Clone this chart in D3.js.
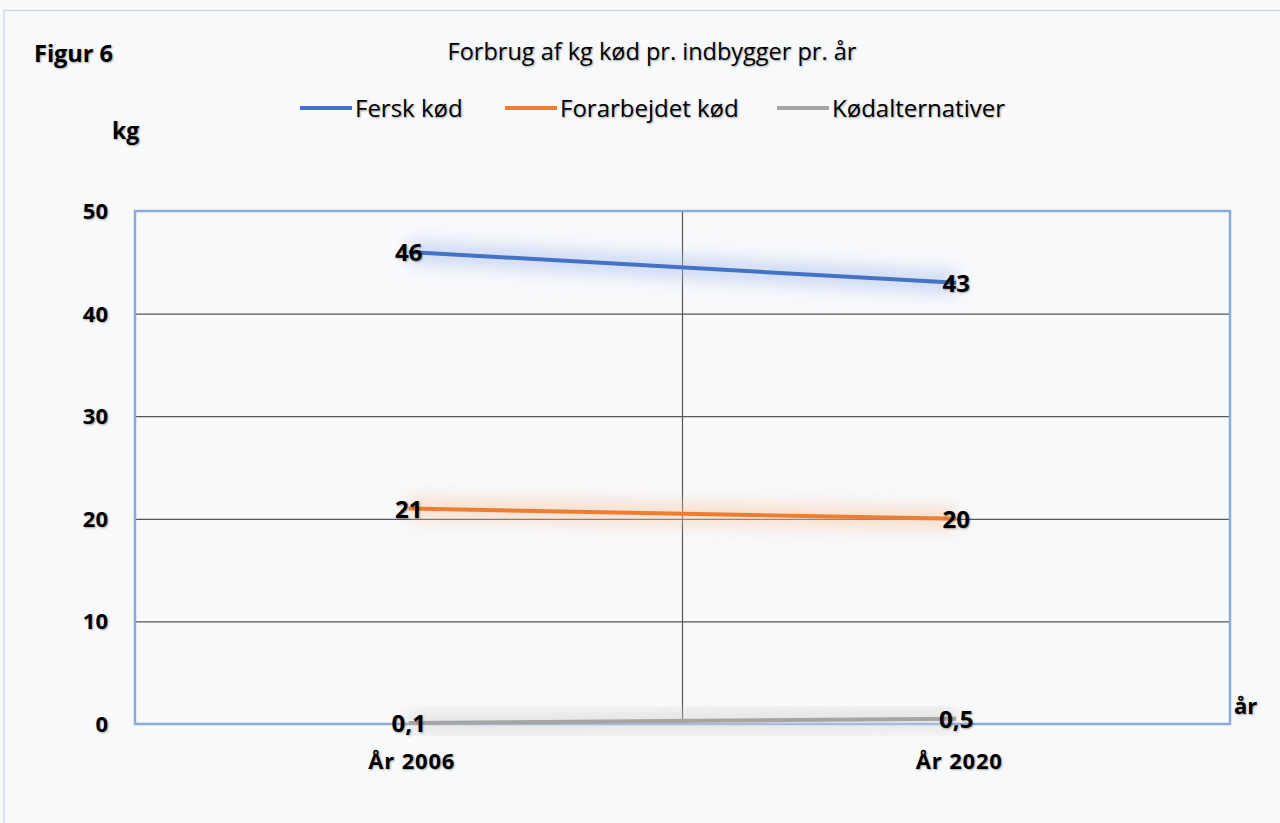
<!DOCTYPE html>
<html><head><meta charset="utf-8">
<script src="https://cdn.jsdelivr.net/npm/d3@7"></script>
<style>
html,body{margin:0;padding:0;background:#f8f9fb;}
svg text{font-family:"Open Sans",sans-serif;fill:#000;}
.sh{text-shadow:1px 1px 2px rgba(0,0,0,0.35);}
</style></head><body>
<svg id="c" width="1280" height="823"></svg>
<script>
const categories = ["År 2006", "År 2020"];
const seriesNames = ["Fersk kød", "Forarbejdet kød", "Kødalternativer"];
const fersk = [46, 43];
const forarbejdet = [21, 20];
const alternativer = [0.1, 0.5];
const labelsFersk = ["46", "43"];
const labelsForarb = ["21", "20"];
const labelsAlt = ["0,1", "0,5"];
const yTicks = [0, 10, 20, 30, 40, 50];
const colors = ["#4472c4", "#ed7d31", "#a5a5a5"];
const glow = ["#a9c0ee", "#f8c8a6", "#d2d2d2"];

const series = [
  {name: seriesNames[0], values: fersk, labels: labelsFersk},
  {name: seriesNames[1], values: forarbejdet, labels: labelsForarb},
  {name: seriesNames[2], values: alternativer, labels: labelsAlt}
];

const svg = d3.select("#c");
const L = 135, R = 1230, T = 211, B = 724;

// outer chart border
svg.append("rect").attr("x", 4).attr("y", 10.5).attr("width", 1290).attr("height", 830)
  .attr("fill", "#f8f9fb").attr("stroke", "#d3d9e6").attr("stroke-width", 1.5);

const defs = svg.append("defs");
glow.forEach((g, i) => {
  const f = defs.append("filter").attr("id", "glow" + i)
    .attr("x", "-20%").attr("y", "-300%").attr("width", "140%").attr("height", "700%");
  f.append("feGaussianBlur").attr("in", "SourceGraphic").attr("stdDeviation", 8);
});

const x = d3.scalePoint().domain(categories).range([L, R]).padding(0.5);
const y = d3.scaleLinear().domain([0, 50]).range([B, T]);

// plot area
svg.append("rect").attr("x", L).attr("y", T).attr("width", R - L).attr("height", B - T)
  .attr("fill", "#f8f9fb");

// horizontal gridlines
const yAxis = d3.axisLeft(y).tickValues(yTicks).tickSize(-(R - L)).tickFormat("");
const gy = svg.append("g").attr("transform", `translate(${L},0)`).call(yAxis);
gy.select(".domain").remove();
gy.selectAll(".tick line").attr("stroke", "#555").attr("stroke-width", 1.2);

// vertical mid gridline
const step = x.step();
svg.append("line").attr("x1", x(categories[0]) + step / 2).attr("x2", x(categories[0]) + step / 2)
  .attr("y1", T).attr("y2", B).attr("stroke", "#555").attr("stroke-width", 1.2);

// plot border (blue)
svg.append("rect").attr("x", L).attr("y", T).attr("width", R - L).attr("height", B - T)
  .attr("fill", "none").attr("stroke", "#8eaadb").attr("stroke-width", 2.5);

// y tick labels
svg.append("g").selectAll("text").data(yTicks).join("text").attr("class", "sh")
  .attr("x", 108).attr("y", d => y(d)).attr("dy", "0.36em").attr("text-anchor", "end")
  .attr("font-size", 22).attr("font-weight", "bold").text(d => d);

// x labels
svg.append("g").selectAll("text").data(categories).join("text").attr("class", "sh")
  .attr("x", d => x(d) + 3).attr("y", 769).attr("text-anchor", "middle")
  .attr("font-size", 22).attr("letter-spacing", 0.8).attr("font-weight", "bold").text(d => d);

// lines
const line = d3.line().x((d, i) => x(categories[i])).y(d => y(d));
series.forEach((s, i) => {
  svg.append("path").datum(s.values).attr("d", line).attr("fill", "none")
    .attr("stroke", glow[i]).attr("stroke-width", 24).attr("stroke-opacity", 0.5)
    .attr("filter", `url(#glow${i})`);
});
series.forEach((s, i) => {
  svg.append("path").datum(s.values).attr("d", line).attr("fill", "none")
    .attr("stroke", colors[i]).attr("stroke-width", 4);
});

// data labels
series.forEach((s, i) => {
  svg.append("g").selectAll("text").data(s.values).join("text").attr("class", "sh")
    .attr("x", (d, j) => x(categories[j])).attr("y", d => y(d)).attr("dy", "0.38em")
    .attr("text-anchor", "middle").attr("font-size", 24).attr("font-weight", "bold")
    .text((d, j) => s.labels[j]);
});

// title etc
svg.append("text").attr("class", "sh").attr("x", 34).attr("y", 62).attr("font-size", 23.5)
  .attr("font-weight", "bold").text("Figur 6");
svg.append("text").attr("class", "sh").attr("x", 652).attr("y", 60).attr("text-anchor", "middle")
  .attr("font-size", 23.5).text("Forbrug af kg kød pr. indbygger pr. år");
svg.append("text").attr("class", "sh").attr("x", 112).attr("y", 139).attr("font-size", 23)
  .attr("font-weight", "bold").text("kg");
svg.append("text").attr("class", "sh").attr("x", 1234).attr("y", 714).attr("font-size", 22)
  .attr("font-weight", "bold").text("år");

// legend
const legX = [300, 505, 777];
series.forEach((s, i) => {
  svg.append("line").attr("x1", legX[i]).attr("x2", legX[i] + 52).attr("y1", 108).attr("y2", 108)
    .attr("stroke", colors[i]).attr("stroke-width", 4);
  svg.append("text").attr("class", "sh").attr("x", legX[i] + 55).attr("y", 117)
    .attr("font-size", 24).text(s.name);
});
</script>
</body></html>
